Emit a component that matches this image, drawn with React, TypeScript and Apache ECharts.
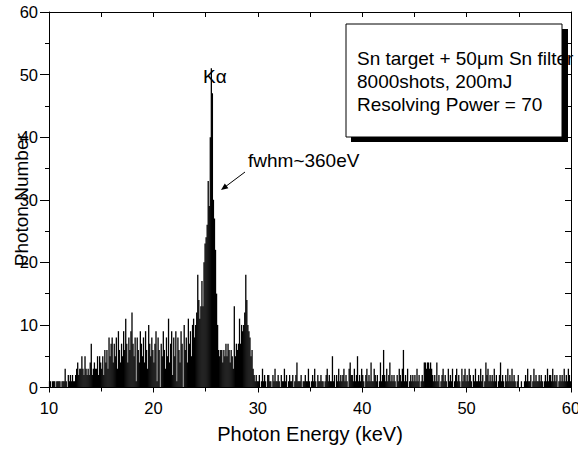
import React, { useEffect, useRef } from "react";
import * as echarts from "echarts";

// Histogram: bin start (keV), bin width (keV)
const binStart = 10;
const binWidth = 0.1;

// photon counts per 0.1 keV bin, 10.0 – 19.9 keV
const counts10to20 = [
  1, 1, 0, 1, 1, 1, 0, 1, 1, 1,
  1, 0, 1, 1, 1, 3, 1, 0, 2, 1,
  2, 1, 2, 1, 1, 2, 3, 4, 2, 3,
  3, 5, 3, 2, 5, 3, 2, 3, 2, 4,
  7, 2, 3, 4, 3, 3, 5, 2, 5, 4,
  3, 5, 2, 6, 4, 6, 3, 8, 5, 7,
  8, 4, 7, 5, 8, 3, 9, 6, 4, 7,
  5, 9, 6, 11, 7, 4, 8, 6, 9, 12,
  7, 5, 8, 1, 8, 6, 4, 9, 7, 5,
  8, 4, 9, 6, 3, 10, 7, 5, 8, 6,
];

// 20.0 – 29.9 keV (Kα peak)
const counts20to30 = [
  4, 7, 9, 1, 8, 6, 0, 7, 5, 9,
  6, 3, 8, 5, 11, 4, 7, 9, 2, 8,
  5, 9, 1, 8, 6, 4, 9, 7, 0, 10,
  6, 8, 4, 11, 7, 9, 5, 10, 11, 8,
  10, 12, 18, 14, 11, 13, 17, 13, 20, 23,
  24, 26, 33, 29, 40, 51, 47, 30, 27, 22,
  15, 10, 6, 5, 6, 6, 4, 6, 5, 7,
  5, 7, 6, 4, 6, 5, 3, 13, 5, 7,
  6, 7, 11, 7, 10, 9, 10, 12, 18, 14,
  10, 9, 8, 5, 6, 3, 2, 1, 2, 1,
];

// 30.0 – 59.9 keV
const counts30to60 = [
  1, 2, 0, 1, 3, 1, 2, 1, 0, 2,
  2, 1, 1, 0, 2, 1, 3, 1, 1, 2,
  1, 0, 2, 1, 1, 3, 1, 2, 0, 1,
  2, 1, 1, 2, 0, 1, 2, 4, 1, 1,
  1, 2, 0, 1, 1, 2, 1, 1, 3, 1,
  0, 1, 2, 1, 3, 1, 0, 2, 1, 1,
  2, 1, 1, 0, 1, 2, 3, 1, 2, 1,
  1, 5, 1, 2, 0, 2, 1, 3, 1, 2,
  1, 2, 3, 1, 2, 1, 0, 3, 4, 2,
  2, 1, 3, 1, 2, 5, 1, 2, 1, 3,
  2, 1, 0, 2, 3, 1, 2, 1, 4, 1,
  1, 3, 2, 1, 2, 0, 1, 4, 1, 2,
  6, 2, 1, 3, 1, 2, 4, 1, 2, 1,
  2, 1, 0, 2, 1, 3, 2, 1, 3, 6,
  1, 2, 1, 3, 0, 1, 2, 1, 2, 1,
  2, 1, 3, 1, 2, 0, 1, 2, 1, 4,
  4, 3, 4, 4, 3, 4, 3, 2, 1, 2,
  1, 4, 1, 2, 0, 1, 2, 3, 1, 2,
  1, 0, 3, 1, 2, 1, 3, 0, 1, 2,
  3, 1, 2, 1, 0, 3, 1, 2, 3, 1,
  2, 1, 3, 2, 1, 0, 2, 1, 3, 1,
  1, 2, 1, 3, 1, 2, 0, 1, 4, 2,
  3, 1, 2, 1, 2, 1, 3, 1, 2, 0,
  1, 2, 4, 1, 2, 1, 0, 2, 1, 3,
  1, 2, 1, 3, 1, 2, 1, 0, 1, 2,
  0, 0, 1, 0, 0, 1, 2, 1, 3, 1,
  1, 2, 0, 1, 3, 1, 2, 1, 1, 2,
  1, 2, 1, 0, 1, 2, 1, 3, 1, 2,
  2, 1, 3, 1, 2, 1, 2, 0, 1, 2,
  1, 2, 1, 3, 1, 2, 1, 3, 2, 1,
];

const counts = [...counts10to20, ...counts20to30, ...counts30to60];

const xTitle = "Photon Energy (keV)";
const yTitle = "Photon Number";
const boxLines = ["Sn target + 50μm Sn filter", "8000shots, 200mJ", "Resolving Power = 70"];
const peakLabel = "Kα";
const fwhmLabel = "fwhm~360eV";

const FONT = "'Liberation Sans', Arial, sans-serif";

export default function App() {
  const ref = useRef<HTMLDivElement>(null);

  useEffect(() => {
    if (!ref.current) return;
    const chart = echarts.init(ref.current, null, { renderer: "svg" });
    const data = counts.map((c, i) => [binStart + binWidth * (i + 0.5), c]);
    const black = "#000";

    chart.setOption({
      animation: false,
      backgroundColor: "#fff",
      textStyle: { fontFamily: FONT, color: black },
      grid: {
        left: 49,
        right: 7,
        top: 12,
        bottom: 61.5,
        containLabel: false,
        outerBoundsMode: "none",
      },
      xAxis: [
        {
          type: "value",
          min: 10,
          max: 60,
          interval: 10,
          position: "bottom",
          name: xTitle,
          nameLocation: "middle",
          nameGap: 36,
          nameMoveOverlap: false,
          nameTextStyle: { fontSize: 20, color: black, fontFamily: FONT },
          axisLine: { show: true, onZero: false, lineStyle: { color: black, width: 1 } },
          axisTick: { show: true, inside: false, length: 5, lineStyle: { color: black } },
          minorTick: { show: true, splitNumber: 2, length: 4, lineStyle: { color: black } },
          axisLabel: { fontSize: 16.5, color: black, margin: 12, fontFamily: FONT },
          splitLine: { show: false },
          minorSplitLine: { show: false },
        },
        {
          type: "value",
          min: 10,
          max: 60,
          interval: 5,
          position: "top",
          axisLine: { show: true, onZero: false, lineStyle: { color: black, width: 1 } },
          axisTick: { show: true, inside: true, length: 5, lineStyle: { color: black } },
          axisLabel: { show: false },
          splitLine: { show: false },
        },
      ],
      yAxis: [
        {
          type: "value",
          min: 0,
          max: 60,
          interval: 10,
          position: "left",
          name: yTitle,
          nameLocation: "middle",
          nameGap: 18,
          nameMoveOverlap: false,
          nameTextStyle: { fontSize: 19, color: black, fontFamily: FONT },
          axisLine: { show: true, onZero: false, lineStyle: { color: black, width: 1 } },
          axisTick: { show: true, inside: false, length: 9, lineStyle: { color: black } },
          minorTick: { show: true, splitNumber: 2, length: 4, lineStyle: { color: black } },
          axisLabel: { fontSize: 16.5, color: black, margin: 11, fontFamily: FONT },
          splitLine: { show: false },
          minorSplitLine: { show: false },
        },
        {
          type: "value",
          min: 0,
          max: 60,
          interval: 5,
          position: "right",
          axisLine: { show: true, onZero: false, lineStyle: { color: black, width: 1 } },
          axisTick: { show: true, inside: true, length: 6, lineStyle: { color: black } },
          axisLabel: { show: false },
          splitLine: { show: false },
        },
      ],
      series: [
        {
          type: "bar",
          xAxisIndex: 0,
          yAxisIndex: 0,
          data,
          barWidth: 1.3,
          itemStyle: { color: black },
          silent: true,
        },
      ],
      graphic: [
        // shadow of text box
        { type: "rect", shape: { x: 351, y: 29, width: 217, height: 113 }, style: { fill: black }, z: 10 },
        { type: "rect", shape: { x: 346, y: 24, width: 216, height: 113 }, style: { fill: "#fff", stroke: black, lineWidth: 1 }, z: 11 },
        ...boxLines.map((t, i) => ({
          type: "text",
          x: 357,
          y: 58 + i * 23,
          style: { text: t, fontSize: 19, fontFamily: FONT, fill: black, textVerticalAlign: "middle" },
          z: 12,
        })),
        { type: "rect", shape: { x: 562.5, y: 29, width: 5.5, height: 113 }, style: { fill: black }, z: 13 },
        {
          type: "text",
          x: 203,
          y: 76,
          style: { text: peakLabel, fontSize: 19, fontFamily: FONT, fill: black, textVerticalAlign: "middle" },
          z: 12,
        },
        {
          type: "text",
          x: 248,
          y: 160,
          style: { text: fwhmLabel, fontSize: 19, fontFamily: FONT, fill: black, textVerticalAlign: "middle" },
          z: 12,
        },
        { type: "line", shape: { x1: 245, y1: 172, x2: 225, y2: 187 }, style: { stroke: black, lineWidth: 1 }, z: 12 },
        {
          type: "polygon",
          shape: { points: [[221, 190], [228.4, 188.2], [224.8, 183.4]] },
          style: { fill: black },
          z: 12,
        },
      ],
    });
    return () => chart.dispose();
  }, []);

  return (
    <div
      ref={ref}
      style={{ position: "fixed", left: 0, top: 0, width: 578, height: 449, background: "#fff" }}
    />
  );
}
